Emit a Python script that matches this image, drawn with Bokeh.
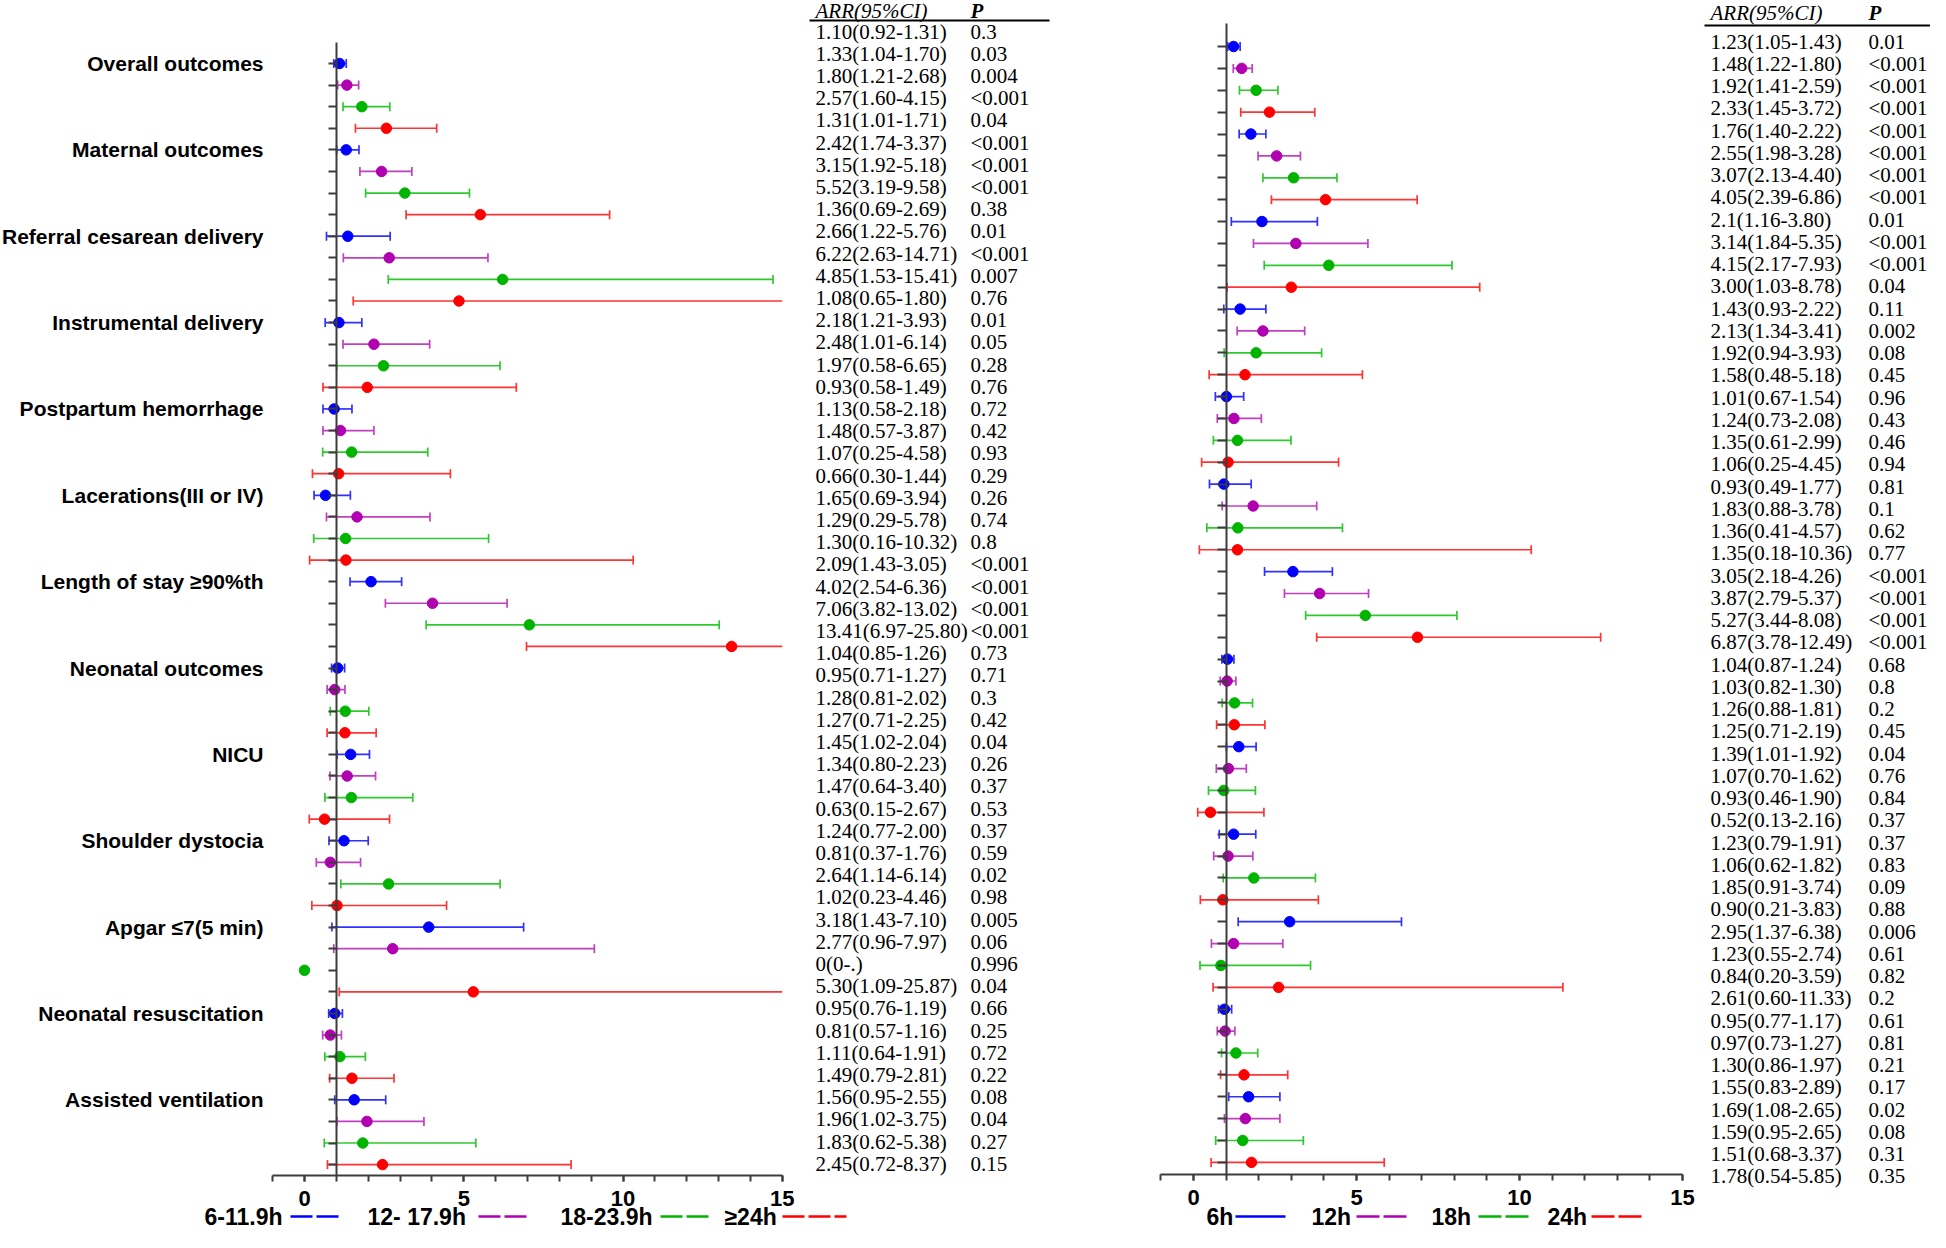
import math
import numpy as np
from bokeh.plotting import figure
from bokeh.layouts import row
from bokeh.models import Range1d, LinearAxis, FixedTicker, SingleIntervalTicker
from bokeh.embed import file_html
from bokeh.resources import INLINE
from bokeh.core.properties import value

nan = float("nan")

# ---------------- data ----------------
outcomes = ["Overall outcomes", "Maternal outcomes", "Referral cesarean delivery",
            "Instrumental delivery", "Postpartum hemorrhage", "Lacerations(III or IV)",
            "Length of stay \u226590%th", "Neonatal outcomes", "NICU", "Shoulder dystocia",
            "Apgar \u22647(5 min)", "Neonatal resuscitation", "Assisted ventilation"]

left_periods = ["6-11.9h", "12- 17.9h", "18-23.9h", "\u226524h"]
right_periods = ["6h", "12h", "18h", "24h"]

x_ticks_labels = ["0", "5", "10", "15"]

# plotted estimates (read from the plot marks)
left_arr = [1.10, 1.33, 1.80, 2.57,
            1.31, 2.42, 3.15, 5.52,
            1.36, 2.66, 6.22, 4.85,
            1.08, 2.18, 2.48, 1.97,
            0.93, 1.13, 1.48, 1.07,
            0.66, 1.65, 1.29, 1.30,
            2.09, 4.02, 7.06, 13.41,
            1.04, 0.95, 1.28, 1.27,
            1.45, 1.34, 1.47, 0.63,
            1.24, 0.81, 2.64, 1.02,
            3.90, 2.77, 0.00, 5.30,
            0.95, 0.81, 1.11, 1.49,
            1.56, 1.96, 1.83, 2.45]
left_lo = [0.92, 1.04, 1.21, 1.60,
           1.01, 1.74, 1.92, 3.19,
           0.69, 1.22, 2.63, 1.53,
           0.65, 1.21, 1.01, 0.58,
           0.58, 0.58, 0.57, 0.25,
           0.30, 0.69, 0.29, 0.16,
           1.43, 2.54, 3.82, 6.97,
           0.85, 0.71, 0.81, 0.71,
           1.02, 0.80, 0.64, 0.15,
           0.77, 0.37, 1.14, 0.23,
           0.86, 0.92, nan, 1.09,
           0.76, 0.57, 0.64, 0.79,
           0.95, 1.02, 0.62, 0.72]
left_hi = [1.31, 1.70, 2.68, 4.15,
           1.71, 3.37, 5.18, 9.58,
           2.69, 5.76, 14.71, 15.41,
           1.80, 3.93, 6.14, 6.65,
           1.49, 2.18, 3.87, 4.58,
           1.44, 3.94, 5.78, 10.32,
           3.05, 6.36, 13.02, 25.80,
           1.26, 1.27, 2.02, 2.25,
           2.04, 2.23, 3.40, 2.67,
           2.00, 1.76, 6.14, 4.46,
           6.88, 9.10, nan, 25.87,
           1.19, 1.16, 1.91, 2.81,
           2.55, 3.75, 5.38, 8.37]
# table texts
left_ci_text = ["1.10(0.92-1.31)", "1.33(1.04-1.70)", "1.80(1.21-2.68)", "2.57(1.60-4.15)",
                "1.31(1.01-1.71)", "2.42(1.74-3.37)", "3.15(1.92-5.18)", "5.52(3.19-9.58)",
                "1.36(0.69-2.69)", "2.66(1.22-5.76)", "6.22(2.63-14.71)", "4.85(1.53-15.41)",
                "1.08(0.65-1.80)", "2.18(1.21-3.93)", "2.48(1.01-6.14)", "1.97(0.58-6.65)",
                "0.93(0.58-1.49)", "1.13(0.58-2.18)", "1.48(0.57-3.87)", "1.07(0.25-4.58)",
                "0.66(0.30-1.44)", "1.65(0.69-3.94)", "1.29(0.29-5.78)", "1.30(0.16-10.32)",
                "2.09(1.43-3.05)", "4.02(2.54-6.36)", "7.06(3.82-13.02)", "13.41(6.97-25.80)",
                "1.04(0.85-1.26)", "0.95(0.71-1.27)", "1.28(0.81-2.02)", "1.27(0.71-2.25)",
                "1.45(1.02-2.04)", "1.34(0.80-2.23)", "1.47(0.64-3.40)", "0.63(0.15-2.67)",
                "1.24(0.77-2.00)", "0.81(0.37-1.76)", "2.64(1.14-6.14)", "1.02(0.23-4.46)",
                "3.18(1.43-7.10)", "2.77(0.96-7.97)", "0(0-.)", "5.30(1.09-25.87)",
                "0.95(0.76-1.19)", "0.81(0.57-1.16)", "1.11(0.64-1.91)", "1.49(0.79-2.81)",
                "1.56(0.95-2.55)", "1.96(1.02-3.75)", "1.83(0.62-5.38)", "2.45(0.72-8.37)"]
LT = "<0.001"
left_p = ["0.3", "0.03", "0.004", LT,
          "0.04", LT, LT, LT,
          "0.38", "0.01", LT, "0.007",
          "0.76", "0.01", "0.05", "0.28",
          "0.76", "0.72", "0.42", "0.93",
          "0.29", "0.26", "0.74", "0.8",
          LT, LT, LT, LT,
          "0.73", "0.71", "0.3", "0.42",
          "0.04", "0.26", "0.37", "0.53",
          "0.37", "0.59", "0.02", "0.98",
          "0.005", "0.06", "0.996", "0.04",
          "0.66", "0.25", "0.72", "0.22",
          "0.08", "0.04", "0.27", "0.15"]

right_arr = [1.23, 1.48, 1.92, 2.33,
             1.76, 2.55, 3.07, 4.05,
             2.10, 3.14, 4.15, 3.00,
             1.43, 2.13, 1.92, 1.58,
             1.01, 1.24, 1.35, 1.06,
             0.93, 1.83, 1.36, 1.35,
             3.05, 3.87, 5.27, 6.87,
             1.04, 1.03, 1.26, 1.25,
             1.39, 1.07, 0.93, 0.52,
             1.23, 1.06, 1.85, 0.90,
             2.95, 1.23, 0.84, 2.61,
             0.95, 0.97, 1.30, 1.55,
             1.69, 1.59, 1.51, 1.78]
right_lo = [1.05, 1.22, 1.41, 1.45,
            1.40, 1.98, 2.13, 2.39,
            1.16, 1.84, 2.17, 1.03,
            0.93, 1.34, 0.94, 0.48,
            0.67, 0.73, 0.61, 0.25,
            0.49, 0.88, 0.41, 0.18,
            2.18, 2.79, 3.44, 3.78,
            0.87, 0.82, 0.88, 0.71,
            1.01, 0.70, 0.46, 0.13,
            0.79, 0.62, 0.91, 0.21,
            1.37, 0.55, 0.20, 0.60,
            0.77, 0.73, 0.86, 0.83,
            1.08, 0.95, 0.68, 0.54]
right_hi = [1.43, 1.80, 2.59, 3.72,
            2.22, 3.28, 4.40, 6.86,
            3.80, 5.35, 7.93, 8.78,
            2.22, 3.41, 3.93, 5.18,
            1.54, 2.08, 2.99, 4.45,
            1.77, 3.78, 4.57, 10.36,
            4.26, 5.37, 8.08, 12.49,
            1.24, 1.30, 1.81, 2.19,
            1.92, 1.62, 1.90, 2.16,
            1.91, 1.82, 3.74, 3.83,
            6.38, 2.74, 3.59, 11.33,
            1.17, 1.27, 1.97, 2.89,
            2.65, 2.65, 3.37, 5.85]
right_ci_text = ["1.23(1.05-1.43)", "1.48(1.22-1.80)", "1.92(1.41-2.59)", "2.33(1.45-3.72)",
                 "1.76(1.40-2.22)", "2.55(1.98-3.28)", "3.07(2.13-4.40)", "4.05(2.39-6.86)",
                 "2.1(1.16-3.80)", "3.14(1.84-5.35)", "4.15(2.17-7.93)", "3.00(1.03-8.78)",
                 "1.43(0.93-2.22)", "2.13(1.34-3.41)", "1.92(0.94-3.93)", "1.58(0.48-5.18)",
                 "1.01(0.67-1.54)", "1.24(0.73-2.08)", "1.35(0.61-2.99)", "1.06(0.25-4.45)",
                 "0.93(0.49-1.77)", "1.83(0.88-3.78)", "1.36(0.41-4.57)", "1.35(0.18-10.36)",
                 "3.05(2.18-4.26)", "3.87(2.79-5.37)", "5.27(3.44-8.08)", "6.87(3.78-12.49)",
                 "1.04(0.87-1.24)", "1.03(0.82-1.30)", "1.26(0.88-1.81)", "1.25(0.71-2.19)",
                 "1.39(1.01-1.92)", "1.07(0.70-1.62)", "0.93(0.46-1.90)", "0.52(0.13-2.16)",
                 "1.23(0.79-1.91)", "1.06(0.62-1.82)", "1.85(0.91-3.74)", "0.90(0.21-3.83)",
                 "2.95(1.37-6.38)", "1.23(0.55-2.74)", "0.84(0.20-3.59)", "2.61(0.60-11.33)",
                 "0.95(0.77-1.17)", "0.97(0.73-1.27)", "1.30(0.86-1.97)", "1.55(0.83-2.89)",
                 "1.69(1.08-2.65)", "1.59(0.95-2.65)", "1.51(0.68-3.37)", "1.78(0.54-5.85)"]
right_p = ["0.01", LT, LT, LT,
           LT, LT, LT, LT,
           "0.01", LT, LT, "0.04",
           "0.11", "0.002", "0.08", "0.45",
           "0.96", "0.43", "0.46", "0.94",
           "0.81", "0.1", "0.62", "0.77",
           LT, LT, LT, LT,
           "0.68", "0.8", "0.2", "0.45",
           "0.04", "0.76", "0.84", "0.37",
           "0.37", "0.83", "0.09", "0.88",
           "0.006", "0.61", "0.82", "0.2",
           "0.61", "0.81", "0.21", "0.17",
           "0.02", "0.08", "0.31", "0.35"]

# ---------------- styles ----------------
MARK_COLORS = ["#0000FF", "#B000B0", "#00B400", "#FF0000"]
LINE_COLORS = ["#3030FF", "#C040C0", "#30C830", "#FF3434"]
AXIS_COLOR = "#3c3c3c"
SANS = "Liberation Sans"
SERIF = "Liberation Serif"
XMIN, XMAX = -1, 15


def build_panel(cfg, arr, lo, hi, ci_text, p_text, periods, dashes, labels):
    x0px, ppu = cfg["x0px"], cfg["ppu"]
    r0, dr = cfg["row0"], cfg["drow"]
    t0, dt = cfg["trow0"], cfg["dtrow"]
    W, H, px0 = cfg["W"], cfg["H"], cfg["page_x0"]
    py0 = 0

    def X(px):
        return (px - x0px) / ppu

    def Y(py):
        return (py - r0) / dr

    p = figure(width=W, height=H,
               x_range=Range1d(X(px0), X(px0 + W)),
               y_range=Range1d(Y(py0 + H), Y(py0)),
               x_axis_type=None, y_axis_type=None,
               toolbar_location=None, output_backend="svg",
               min_border=0, outline_line_color=None)
    p.extra_y_ranges = {"tbl": Range1d((py0 + H - t0) / dt, (py0 - t0) / dt)}
    p.xgrid.visible = False
    p.ygrid.visible = False

    n = len(arr)
    rows = np.arange(n, dtype=float)
    arr_a = np.array(arr, dtype=float)
    lo_a = np.array(lo, dtype=float)
    hi_a = np.array(hi, dtype=float)
    gi = np.arange(n) % 4
    lcol = [LINE_COLORS[g] for g in gi]
    mcol = [MARK_COLORS[g] for g in gi]

    # confidence interval lines (clipped at the x-axis end)
    ok = ~np.isnan(lo_a)
    hi_clip = np.minimum(hi_a, XMAX)
    p.segment(x0=lo_a[ok], y0=rows[ok], x1=hi_clip[ok], y1=rows[ok],
              line_color=[c for c, k in zip(lcol, ok) if k], line_width=1.7)
    # caps
    cap_x = list(lo_a[ok])
    cap_y = list(rows[ok])
    cap_c = [c for c, k in zip(lcol, ok) if k]
    for i in range(n):
        if ok[i] and hi_a[i] <= XMAX:
            cap_x.append(hi_a[i])
            cap_y.append(rows[i])
            cap_c.append(lcol[i])
    p.scatter(x=cap_x, y=cap_y, marker="dash", angle=math.pi / 2, size=9,
              line_color=cap_c, line_width=1.7)
    # point estimates
    p.scatter(x=arr_a, y=rows, marker="circle", size=10.5,
              fill_color=mcol, line_color=mcol)

    # axes
    xax = LinearAxis(fixed_location=Y(cfg["axis_y"]), bounds=(XMIN, XMAX),
                     ticker=SingleIntervalTicker(interval=5, num_minor_ticks=5),
                     major_label_overrides={float(5 * i): t for i, t in enumerate(x_ticks_labels)},
                     axis_line_width=2, axis_line_color=AXIS_COLOR,
                     major_tick_out=6, major_tick_in=0, minor_tick_out=6, minor_tick_in=0,
                     major_tick_line_width=2, minor_tick_line_width=2,
                     major_tick_line_color=AXIS_COLOR, minor_tick_line_color=AXIS_COLOR,
                     major_label_text_font=SANS, major_label_text_font_style="bold",
                     major_label_text_font_size="22px", major_label_text_color="black",
                     major_label_standoff=cfg["standoff"])
    p.add_layout(xax, "below")
    yax = LinearAxis(fixed_location=1, bounds=(Y(cfg["vtop"]), Y(cfg["axis_y"])),
                     ticker=FixedTicker(ticks=list(range(n))),
                     axis_line_width=2, axis_line_color=AXIS_COLOR,
                     major_tick_out=cfg["ytick"], major_tick_in=0, minor_tick_out=0,
                     major_tick_line_width=2, major_tick_line_color=AXIS_COLOR,
                     major_label_text_font_size="0px", major_label_text_color=None)
    p.add_layout(yax, "left")

    # outcome labels
    if labels:
        p.text(x=[X(cfg["label_right"])] * len(outcomes),
               y=[4.0 * k for k in range(len(outcomes))], text=outcomes,
               text_font=value(SANS), text_font_style="bold", text_font_size="21px",
               text_align="right", text_baseline="middle", text_color="black")

    # table
    p.text(x=[X(cfg["ci_x"])] * n, y=list(range(n)), text=ci_text, y_range_name="tbl",
           text_font=value(SERIF), text_font_size="21px", text_align="left",
           text_baseline="middle", text_color="black")
    p.text(x=[X(cfg["p_x"])] * n, y=list(range(n)), text=p_text, y_range_name="tbl",
           text_font=value(SERIF), text_font_size="21px", text_align="left",
           text_baseline="middle", text_color="black")
    p.text(x=[X(cfg["ci_x"])], y=[Y(cfg["head_y"])], text=["ARR(95%CI)"],
           text_font=value(SERIF), text_font_style="italic", text_font_size="21px",
           text_align="left", text_baseline="middle", text_color="black")
    p.text(x=[X(cfg["p_x"])], y=[Y(cfg["head_y"])], text=["P"],
           text_font=value(SERIF), text_font_style="bold italic", text_font_size="21px",
           text_align="left", text_baseline="middle", text_color="black")
    p.segment(x0=[X(cfg["hline"][0])], x1=[X(cfg["hline"][1])],
              y0=[Y(cfg["hline_y"])], y1=[Y(cfg["hline_y"])],
              line_color="black", line_width=2)

    # legend (label followed by its line sample)
    ly = Y(cfg["leg_y"])
    for k, (tx, lx0, lx1) in enumerate(cfg["legend"]):
        p.text(x=[X(tx)], y=[ly], text=[periods[k]], text_font=value(SANS),
               text_font_style="bold", text_font_size="23px",
               text_align="left", text_baseline="middle", text_color="black")
        p.segment(x0=[X(lx0)], x1=[X(lx1)], y0=[ly], y1=[ly],
                  line_color=MARK_COLORS[k], line_width=2.5, line_dash=dashes[k])
    return p


left_cfg = dict(W=1122, H=1232, page_x0=0, x0px=304, ppu=31.85,
                row0=63, drow=21.59, trow0=31, dtrow=22.2,
                axis_y=1175, vtop=42, ytick=8, standoff=9,
                label_right=263, ci_x=815, p_x=970, head_y=10, hline_y=20,
                hline=(809, 1049), leg_y=1216,
                legend=[(204, 290, 340), (367, 478, 528),
                        (560, 660, 710), (724, 782, 846)])
right_cfg = dict(W=808, H=1232, page_x0=1122, x0px=1193, ppu=32.6,
                 row0=46, drow=21.88, trow0=41, dtrow=22.25,
                 axis_y=1174, vtop=23, ytick=9, standoff=9,
                 label_right=0, ci_x=1710, p_x=1868, head_y=12, hline_y=25,
                 hline=(1704, 1930), leg_y=1216,
                 legend=[(1206, 1235, 1285), (1311, 1356, 1406),
                         (1431, 1478, 1528), (1547, 1591, 1641)])

p_left = build_panel(left_cfg, left_arr, left_lo, left_hi, left_ci_text, left_p,
                     left_periods, ["22 4", "22 4", "22 4", "22 4"], True)
p_right = build_panel(right_cfg, right_arr, right_lo, right_hi, right_ci_text, right_p,
                      right_periods, ["solid", "23 4", "23 4", "23 4"], False)

layout = row(p_left, p_right, spacing=0)
open("out.html", "w").write(file_html(layout, INLINE))
